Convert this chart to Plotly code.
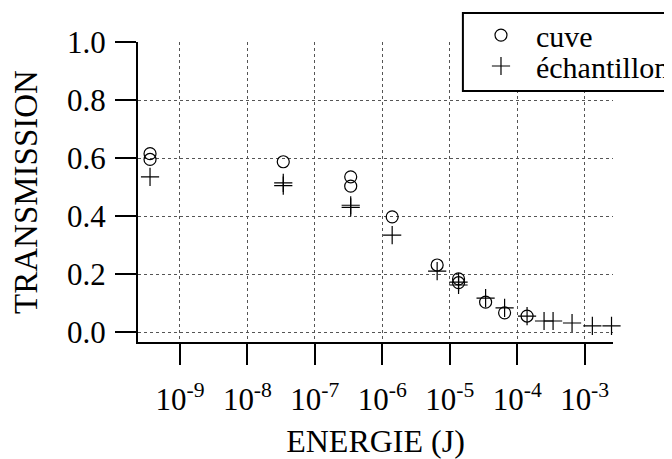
import plotly.graph_objects as go

# energies (J) and transmission
cuve_energy = [3.6e-10, 3.6e-10, 3.4e-8, 3.4e-7, 3.4e-7, 1.4e-6, 6.5e-6,
               1.35e-5, 1.35e-5, 3.4e-5, 6.5e-5, 1.4e-4]
cuve_trans = [0.615, 0.595, 0.587, 0.535, 0.503, 0.397, 0.231,
              0.183, 0.170, 0.103, 0.066, 0.055]

ech_energy = [3.6e-10, 3.4e-8, 3.4e-8, 3.4e-7, 3.4e-7, 1.4e-6, 6.5e-6,
              1.35e-5, 1.35e-5, 3.4e-5, 6.5e-5, 1.4e-4, 2.5e-4, 3.4e-4,
              6.5e-4, 1.3e-3, 2.5e-3]
ech_trans = [0.535, 0.514, 0.505, 0.437, 0.430, 0.334, 0.210,
             0.172, 0.162, 0.117, 0.083, 0.055, 0.038, 0.038,
             0.031, 0.021, 0.021]

x_tickvals = [1e-9, 1e-8, 1e-7, 1e-6, 1e-5, 1e-4, 1e-3]
x_ticktext = ["10<sup>-9</sup>", "10<sup>-8</sup>", "10<sup>-7</sup>", "10<sup>-6</sup>",
              "10<sup>-5</sup>", "10<sup>-4</sup>", "10<sup>-3</sup>"]
y_tickvals = [0.0, 0.2, 0.4, 0.6, 0.8, 1.0]
y_ticktext = ["0.0", "0.2", "0.4", "0.6", "0.8", "1.0"]

serif = "Liberation Serif"

fig = go.Figure()
fig.add_trace(go.Scatter(
    x=cuve_energy, y=cuve_trans, mode="markers", name="cuve", legend="legend",
    marker=dict(symbol="circle-open", size=12, color="black", line=dict(width=1.2)),
    cliponaxis=False,
))
fig.add_trace(go.Scatter(
    x=ech_energy, y=ech_trans, mode="markers", name="échantillon", legend="legend2",
    marker=dict(symbol="cross-thin-open", size=13, color="black", line=dict(width=1.2, color="black")),
    cliponaxis=False,
))

# legend frame (white, hides the grid behind it)
fig.add_shape(type="rect", xref="paper", yref="paper",
              x0=0.684, x1=1.2, y0=0.837, y1=1.097,
              fillcolor="white", line=dict(color="black", width=2), layer="above")

legend_style = dict(
    xanchor="left", yanchor="middle",
    bgcolor="rgba(0,0,0,0)", borderwidth=0,
    font=dict(family=serif, size=30, color="black"),
    itemwidth=60,
)

fig.update_layout(
    width=664, height=451,
    margin=dict(l=130, r=59, t=34, b=117, autoexpand=False),
    paper_bgcolor="white", plot_bgcolor="white",
    font=dict(family=serif, size=30, color="black"),
    showlegend=True,
    legend=dict(x=0.6905, y=1.023, **legend_style),
    legend2=dict(x=0.6905, y=0.92, **legend_style),
)

fig.update_xaxes(
    type="log", range=[-9.622, -2.58],
    tickvals=x_tickvals, ticktext=x_ticktext,
    ticks="outside", ticklen=21, tickwidth=2, tickcolor="black",
    showline=True, linewidth=2, linecolor="black",
    showgrid=True, gridcolor="#555", griddash="dot", gridwidth=1,
    zeroline=False,
    tickfont=dict(family=serif, size=31),
    ticklabelstandoff=8,
    title=dict(text="ENERGIE (J)", font=dict(family=serif, size=32), standoff=24),
)
fig.update_yaxes(
    range=[-0.0345, 1.0],
    tickvals=y_tickvals, ticktext=y_ticktext,
    ticks="outside", ticklen=21, tickwidth=2, tickcolor="black",
    showline=True, linewidth=2, linecolor="black",
    showgrid=True, gridcolor="#555", griddash="dot", gridwidth=1,
    zeroline=False,
    tickfont=dict(family=serif, size=31),
    ticklabelstandoff=3,
    title=dict(text="TRANSMISSION", font=dict(family=serif, size=33), standoff=34),
)

fig.write_html("out.html")
